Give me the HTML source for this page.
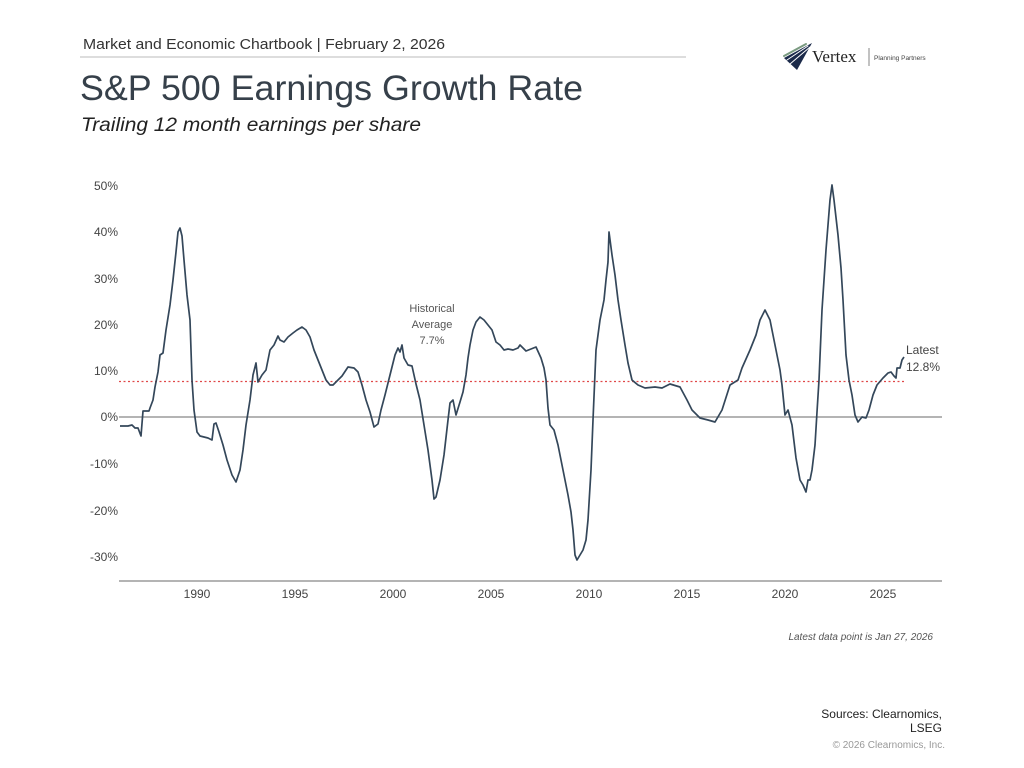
<!DOCTYPE html>
<html><head><meta charset="utf-8"><style>
html,body{margin:0;padding:0;background:#fff;}
svg{display:block;}
text{font-family:"Liberation Sans",sans-serif;}
</style></head><body>
<svg width="1024" height="768" viewBox="0 0 1024 768" xmlns="http://www.w3.org/2000/svg">
<rect width="1024" height="768" fill="#fff"/>
<text x="83" y="49" font-size="15" fill="#333" textLength="362" lengthAdjust="spacingAndGlyphs">Market and Economic Chartbook | February 2, 2026</text>
<line x1="80" y1="57" x2="686" y2="57" stroke="#bbb" stroke-width="1"/>
<text x="80" y="100" font-size="35" fill="#36404a" textLength="503" lengthAdjust="spacingAndGlyphs">S&amp;P 500 Earnings Growth Rate</text>
<text x="81" y="131" font-size="19" font-style="italic" fill="#222" textLength="340" lengthAdjust="spacingAndGlyphs">Trailing 12 month earnings per share</text>
<g stroke-linecap="round">
<polygon points="784,58 812,43 797,70" fill="#1b2a4a"/>
<line x1="784" y1="56" x2="806" y2="44" stroke="#7a9a80" stroke-width="2"/>
<line x1="787" y1="60" x2="808" y2="46" stroke="#fff" stroke-width="1"/>
<line x1="790" y1="64" x2="810" y2="47" stroke="#fff" stroke-width="1"/>
</g>
<text x="812" y="62" font-size="17" fill="#222" style="font-family:'Liberation Serif',serif">Vertex</text>
<line x1="869" y1="48" x2="869" y2="66" stroke="#666" stroke-width="0.8"/>
<text x="874" y="60" font-size="6.5" fill="#444">Planning Partners</text>
<g font-size="12" fill="#444" text-anchor="end">
<text x="118" y="190">50%</text>
<text x="118" y="236">40%</text>
<text x="118" y="283">30%</text>
<text x="118" y="329">20%</text>
<text x="118" y="375">10%</text>
<text x="118" y="421">0%</text>
<text x="118" y="468">-10%</text>
<text x="118" y="515">-20%</text>
<text x="118" y="561">-30%</text>
</g>
<g font-size="12" fill="#444" text-anchor="middle">
<text x="197" y="598">1990</text>
<text x="295" y="598">1995</text>
<text x="393" y="598">2000</text>
<text x="491" y="598">2005</text>
<text x="589" y="598">2010</text>
<text x="687" y="598">2015</text>
<text x="785" y="598">2020</text>
<text x="883" y="598">2025</text>
</g>
<line x1="119" y1="417" x2="942" y2="417" stroke="#888" stroke-width="1.2"/>
<line x1="119" y1="581" x2="942" y2="581" stroke="#888" stroke-width="1.2"/>
<line x1="119" y1="381.5" x2="905" y2="381.5" stroke="#e04848" stroke-width="1.2" stroke-dasharray="2,2.5"/>
<polyline fill="none" stroke="#34475a" stroke-width="1.7" stroke-linejoin="round" points="120,426 128,426 132,425 135,428 138,428 141,436 143,411 149,411 150,408 153,400 155,387 158,372 160,355 163,353 166,330 170,305 173,280 176,252 178,232 180,228 182,236 184,260 187,295 190,320 192,380 194,410 197,432 200,436 208,438 212,440 214,424 216,423 219,432 223,445 227,460 232,475 236,482 240,470 243,450 246,425 250,400 253,375 256,363 258,382 262,375 266,370 270,350 274,345 278,336 280,340 284,342 288,337 293,333 297,330 302,327 306,330 310,337 314,350 318,360 322,370 326,380 330,385 333,385 336,382 342,376 348,367 354,368 358,372 362,385 366,400 370,412 374,427 378,424 381,410 385,395 390,375 395,355 398,348 400,352 402,345 404,358 408,365 412,366 416,384 420,400 424,425 428,450 432,480 434,499 436,497 440,480 444,455 448,420 450,403 453,400 456,415 460,402 463,392 466,375 468,358 470,345 473,330 476,322 480,317 484,320 488,325 492,330 496,342 500,345 504,350 508,349 513,350 518,348 520,345 526,351 531,349 536,347 541,358 544,368 546,380 548,408 550,425 554,430 558,445 563,470 568,495 571,512 573,530 575,555 577,560 580,555 583,550 586,540 588,520 591,470 593,420 596,350 600,320 604,300 606,280 608,262 609,232 612,255 615,275 618,300 621,320 625,345 628,363 632,380 638,385 645,388 655,387 662,388 670,384 680,387 687,400 692,410 700,418 708,420 715,422 722,410 730,385 738,380 742,368 750,350 756,335 760,320 765,310 770,320 775,345 780,370 782,385 785,415 788,410 792,425 796,458 800,480 803,485 806,492 808,480 810,480 812,470 815,445 817,412 819,380 822,310 826,250 830,200 832,185 834,200 838,235 841,268 843,300 846,355 849,380 852,395 855,415 858,422 862,417 866,418 869,410 873,395 877,385 883,378 888,373 891,372 894,376 896,378 897,368 900,368 902,360 904,357"/>
<g font-size="11" fill="#555" text-anchor="middle">
<text x="432" y="312">Historical</text>
<text x="432" y="328">Average</text>
<text x="432" y="344">7.7%</text>
</g>
<g font-size="12" fill="#444">
<text x="906" y="354">Latest</text>
<text x="906" y="371">12.8%</text>
</g>
<text x="933" y="640" font-size="10" font-style="italic" fill="#555" text-anchor="end">Latest data point is Jan 27, 2026</text>
<text x="942" y="718" font-size="12" fill="#222" text-anchor="end">Sources: Clearnomics,</text>
<text x="942" y="732" font-size="12" fill="#222" text-anchor="end">LSEG</text>
<text x="945" y="748" font-size="10" fill="#999" text-anchor="end">© 2026 Clearnomics, Inc.</text>
</svg>
</body></html>
